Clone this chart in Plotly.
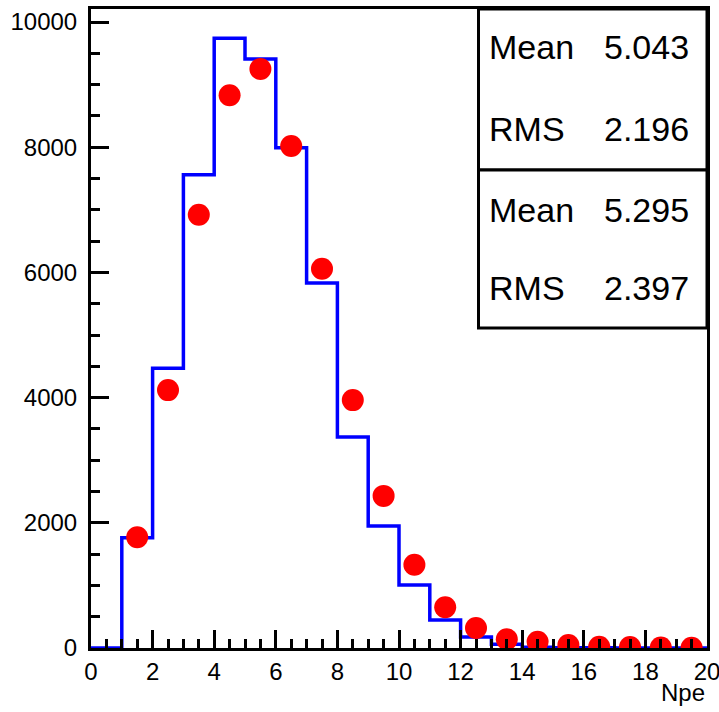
import plotly.graph_objects as go

# Histogram (blue) bin edges and counts
bin_edges = list(range(0, 21))
hist_counts = [0, 1760, 4470, 7560, 9740, 9410, 7990, 5830, 3370, 1950,
               1005, 447, 175, 60, 12, 4, 2, 1, 0, 0]

# Data points (red) at bin centres
point_x = [1.5, 2.5, 3.5, 4.5, 5.5, 6.5, 7.5, 8.5, 9.5, 10.5,
           11.5, 12.5, 13.5, 14.5, 15.5, 16.5, 17.5, 18.5, 19.5]
point_y = [1770, 4120, 6920, 8830, 9250, 8020, 6060, 3960, 2430, 1330,
           650, 320, 140, 100, 48, 20, 15, 8, 5]

stats_labels = [["Mean", "RMS"], ["Mean", "RMS"]]
stats_values = [["5.043", "2.196"], ["5.295", "2.397"]]

x_title = "Npe"
FONT = "Liberation Sans, Arial, Helvetica, sans-serif"

W, H = 719, 712
ml, mr, mt, mb = 91, 12, 9, 64
pw, ph = W - ml - mr, H - mt - mb

def px_to_paper_x(px):
    return (px - ml) / pw

def px_to_paper_y(py):
    return 1 - (py - mt) / ph

fig = go.Figure()

# step histogram
step_x = bin_edges[:-1] + [bin_edges[-1]]
step_y = hist_counts + [hist_counts[-1]]
fig.add_trace(go.Scatter(
    x=step_x, y=step_y, mode="lines", line_shape="hv",
    line=dict(color="#0000ff", width=3.5), hoverinfo="skip", showlegend=False,
))

fig.add_trace(go.Scatter(
    x=point_x, y=point_y, mode="markers",
    marker=dict(color="#ff0000", size=22, line=dict(width=0)),
    showlegend=False,
))

# stats boxes
box_left = px_to_paper_x(478.5)
box_right = 1.0
box_tops = [9, 170]
box_bottoms = [170, 328]
row_centers = [[47, 129], [210, 288]]
for b in range(2):
    fig.add_shape(type="rect", xref="paper", yref="paper",
                  x0=box_left, x1=box_right,
                  y0=px_to_paper_y(box_bottoms[b]), y1=px_to_paper_y(box_tops[b]),
                  line=dict(color="black", width=3), fillcolor="white", layer="above")
    for r in range(2):
        fig.add_annotation(xref="paper", yref="paper",
                           x=px_to_paper_x(487), y=px_to_paper_y(row_centers[b][r]),
                           text=stats_labels[b][r], showarrow=False,
                           xanchor="left", yanchor="middle",
                           font=dict(size=34, color="black", family=FONT))
        fig.add_annotation(xref="paper", yref="paper",
                           x=px_to_paper_x(691), y=px_to_paper_y(row_centers[b][r]),
                           text=stats_values[b][r], showarrow=False,
                           xanchor="right", yanchor="middle",
                           font=dict(size=34, color="black", family=FONT))

fig.add_annotation(xref="paper", yref="paper",
                   x=px_to_paper_x(707), y=px_to_paper_y(693),
                   text=x_title, showarrow=False, xanchor="right", yanchor="middle",
                   font=dict(size=24, color="black", family=FONT))

fig.update_xaxes(
    range=[0, 20], showgrid=False, zeroline=False, automargin=False,
    showline=True, linecolor="black", linewidth=3, mirror=True,
    ticks="inside", ticklen=18, tickwidth=2.5, tickcolor="black",
    tick0=0, dtick=2, tickformat="d",
    minor=dict(ticks="inside", ticklen=9, tickwidth=2.5, tickcolor="black", dtick=0.5),
    tickfont=dict(size=24, color="black", family=FONT),
    ticklabelstandoff=0, ticklabeloverflow="allow",
)
fig.update_yaxes(
    range=[0, 10208], showgrid=False, zeroline=False, automargin=False,
    showline=True, linecolor="black", linewidth=3, mirror=True,
    ticks="inside", ticklen=18, tickwidth=2.5, tickcolor="black",
    tick0=0, dtick=2000, tickformat="d",
    minor=dict(ticks="inside", ticklen=9, tickwidth=2.5, tickcolor="black", dtick=500),
    tickfont=dict(size=24, color="black", family=FONT),
    ticklabelstandoff=6,
)

fig.update_layout(
    width=W, height=H,
    margin=dict(l=ml, r=mr, t=mt, b=mb),
    plot_bgcolor="white", paper_bgcolor="white",
    font=dict(family=FONT, color="black"),
    showlegend=False,
)

fig.write_html("out.html")
